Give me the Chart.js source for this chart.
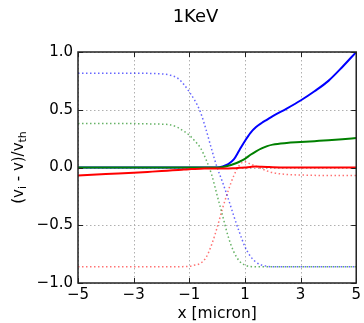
<!DOCTYPE html>
<html><head><meta charset="utf-8">
<script src="https://cdn.jsdelivr.net/npm/chart.js@4.4.1/dist/chart.umd.min.js"></script>
<style>html,body{margin:0;padding:0;background:#fff}#wrap{width:364px;height:323px}</style>
</head><body><div id="wrap"><canvas id="c" width="364" height="323"></canvas></div>
<script>
const titleText = '1KeV';
const xLabel = 'x [micron]';
const xTicks = [-5, -3, -1, 1, 3, 5];
const yTicks = [-1, -0.5, 0, 0.5, 1];
const xPos = [-5, -4, -3, -2.5, -2, -1.7, -1.4, -1.2, -1, -0.8, -0.6, -0.4, -0.2, 0, 0.2, 0.4, 0.6, 0.8, 1.0, 1.2, 1.4, 1.6, 1.8, 2, 2.5, 3, 3.5, 4, 4.5, 5];
const blueSolid = [0, 0, 0, 0, 0, 0, 0, 0, 0, 0, 0, 0, 0, 0, 0.01, 0.03, 0.07, 0.15, 0.23, 0.3, 0.35, 0.385, 0.415, 0.445, 0.51, 0.58, 0.66, 0.75, 0.87, 1.0];
const greenSolid = [0, 0, 0, 0, 0, 0, 0, 0, 0, 0, 0, 0, 0, 0, 0.005, 0.015, 0.03, 0.05, 0.075, 0.11, 0.14, 0.165, 0.185, 0.198, 0.212, 0.22, 0.228, 0.236, 0.245, 0.255];
const redSolid = [-0.07, -0.057, -0.045, -0.038, -0.031, -0.026, -0.021, -0.018, -0.015, -0.012, -0.01, -0.009, -0.008, -0.008, -0.008, -0.008, -0.006, -0.003, 0.0, 0.005, 0.008, 0.006, 0.004, 0.002, 0, 0, 0, 0, 0, 0];
const blueDotted = [0.815, 0.815, 0.815, 0.815, 0.81, 0.80, 0.77, 0.72, 0.655, 0.58, 0.48, 0.33, 0.16, 0.0, -0.13, -0.27, -0.42, -0.56, -0.685, -0.77, -0.82, -0.845, -0.855, -0.86, -0.86, -0.86, -0.86, -0.86, -0.86, -0.86];
const greenDotted = [0.38, 0.38, 0.38, 0.378, 0.375, 0.37, 0.345, 0.315, 0.28, 0.23, 0.17, 0.07, -0.06, -0.24, -0.42, -0.6, -0.73, -0.81, -0.845, -0.858, -0.86, -0.86, -0.86, -0.86, -0.86, -0.86, -0.86, -0.86, -0.86, -0.86];
const redDotted = [-0.86, -0.86, -0.86, -0.86, -0.86, -0.86, -0.86, -0.858, -0.855, -0.845, -0.83, -0.78, -0.67, -0.52, -0.35, -0.2, -0.07, 0.02, 0.05, 0.03, 0.01, -0.01, -0.03, -0.045, -0.06, -0.065, -0.068, -0.07, -0.07, -0.07];

function pts(ys) { return xPos.map((x, i) => ({x: x, y: ys[i]})); }
function fmt(v, d) { return (d ? v.toFixed(d) : String(v)).replace('-', '\u2212'); }

const FONT = "'DejaVu Sans', sans-serif";

const dottedGrid = {
  id: 'dottedGrid',
  beforeDatasetsDraw(chart) {
    const {ctx, chartArea: a, scales} = chart;
    ctx.save();
    ctx.strokeStyle = '#b0b0b0';
    ctx.lineWidth = 1;
    ctx.setLineDash([1.5, 2.5]);
    ctx.beginPath();
    xTicks.forEach(t => {
      const px = Math.round(scales.x.getPixelForValue(t)) + 0.5;
      ctx.moveTo(px, a.top); ctx.lineTo(px, a.bottom);
    });
    yTicks.forEach(t => {
      const py = Math.round(scales.y.getPixelForValue(t)) + 0.5;
      ctx.moveTo(a.left, py); ctx.lineTo(a.right, py);
    });
    ctx.stroke();
    ctx.restore();
  }
};

const frameTicks = {
  id: 'frameTicks',
  afterDraw(chart) {
    const {ctx, chartArea: a, scales} = chart;
    ctx.save();
    ctx.strokeStyle = '#222';
    ctx.lineWidth = 1;
    const L = 5;
    ctx.beginPath();
    xTicks.forEach(t => {
      const px = Math.round(scales.x.getPixelForValue(t)) + 0.5;
      ctx.moveTo(px, a.top); ctx.lineTo(px, a.top + L);
      ctx.moveTo(px, a.bottom); ctx.lineTo(px, a.bottom - L);
    });
    yTicks.forEach(t => {
      const py = Math.round(scales.y.getPixelForValue(t)) + 0.5;
      ctx.moveTo(a.left, py); ctx.lineTo(a.left + L, py);
      ctx.moveTo(a.right, py); ctx.lineTo(a.right - L, py);
    });
    ctx.stroke();
    ctx.lineWidth = 1.5;
    ctx.strokeRect(a.left, a.top, a.right - a.left, a.bottom - a.top);
    // title
    ctx.fillStyle = '#000';
    ctx.font = '18px ' + FONT;
    ctx.textAlign = 'center';
    ctx.textBaseline = 'middle';
    ctx.fillText(titleText, 195.5, 17.5);
    // y axis title with subscripts
    ctx.textAlign = 'left';
    const parts = [['(v', 0], ['i', 1], [' - v)/v', 0], ['th', 1]];
    const mainF = '15px ' + FONT, subF = '11px ' + FONT;
    let total = 0;
    parts.forEach(p => { ctx.font = p[1] ? subF : mainF; total += ctx.measureText(p[0]).width; });
    ctx.translate(18, (a.top + a.bottom) / 2);
    ctx.rotate(-Math.PI / 2);
    ctx.textBaseline = 'alphabetic';
    let x = -total / 2;
    parts.forEach(p => {
      ctx.font = p[1] ? subF : mainF;
      ctx.fillText(p[0], x, p[1] ? 8 : 5);
      x += ctx.measureText(p[0]).width;
    });
    ctx.restore();
  }
};

new Chart(document.getElementById('c'), {
  type: 'scatter',
  data: {
    datasets: [
      {data: pts(redSolid), borderColor: '#ff0000', borderWidth: 2, order: 0},
      {data: pts(greenSolid), borderColor: '#008000', borderWidth: 2, order: 1},
      {data: pts(blueSolid), borderColor: '#0000ff', borderWidth: 2, order: 2},
      {data: pts(blueDotted), borderColor: 'rgba(0,0,255,0.6)', borderWidth: 1.5, borderDash: [1.5, 2.5], order: 3},
      {data: pts(greenDotted), borderColor: 'rgba(0,128,0,0.6)', borderWidth: 1.5, borderDash: [1.5, 2.5], order: 4},
      {data: pts(redDotted), borderColor: 'rgba(255,0,0,0.55)', borderWidth: 1.5, borderDash: [1.5, 2.5], order: 5}
    ].map(d => Object.assign({showLine: true, pointRadius: 0, fill: false, cubicInterpolationMode: 'monotone'}, d))
  },
  options: {
    responsive: false,
    animation: false,
    devicePixelRatio: 1,
    layout: {padding: {left: 0, right: 7, top: 52, bottom: 0}},
    plugins: {
      legend: {display: false},
      tooltip: {enabled: false},
      title: {display: false}
    },
    scales: {
      x: {
        type: 'linear', min: -5, max: 5,
        afterBuildTicks: s => { s.ticks = xTicks.map(v => ({value: v})); },
        afterFit: s => { s.height = 40; },
        grid: {display: false, drawTicks: false},
        border: {display: false},
        ticks: {color: '#000', font: {family: FONT, size: 15}, padding: 3, maxRotation: 0, callback: v => fmt(v, 0)},
        title: {display: true, text: xLabel, color: '#000', font: {family: FONT, size: 15.5}, padding: {top: 0, bottom: 0}}
      },
      y: {
        type: 'linear', min: -1, max: 1,
        afterBuildTicks: s => { s.ticks = yTicks.map(v => ({value: v})); },
        afterFit: s => { s.width = 78; },
        grid: {display: false, drawTicks: false},
        border: {display: false},
        ticks: {color: '#000', font: {family: FONT, size: 15}, padding: 5, callback: v => fmt(v, 1)}
      }
    }
  },
  plugins: [dottedGrid, frameTicks]
});
</script></body></html>
